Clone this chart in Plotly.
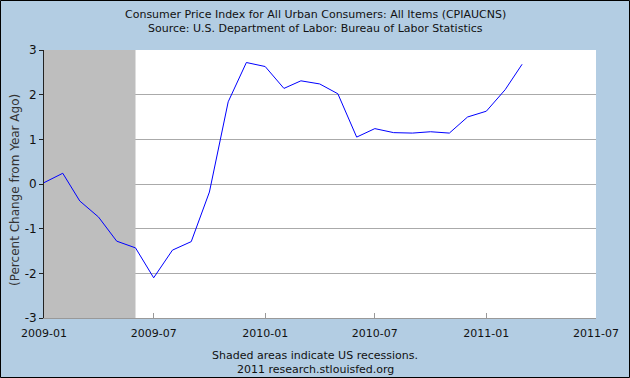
import plotly.graph_objects as go

months = ["2009-01-01","2009-02-01","2009-03-01","2009-04-01","2009-05-01","2009-06-01",
          "2009-07-01","2009-08-01","2009-09-01","2009-10-01","2009-11-01","2009-12-01",
          "2010-01-01","2010-02-01","2010-03-01","2010-04-01","2010-05-01","2010-06-01",
          "2010-07-01","2010-08-01","2010-09-01","2010-10-01","2010-11-01","2010-12-01",
          "2011-01-01","2011-02-01","2011-03-01"]
cpi_yoy = [0.03, 0.24, -0.38, -0.74, -1.28, -1.43,
           -2.10, -1.48, -1.29, -0.18, 1.84, 2.72,
           2.63, 2.14, 2.31, 2.24, 2.02, 1.05,
           1.24, 1.15, 1.14, 1.17, 1.14, 1.50,
           1.63, 2.11, 2.68]
recession_start = "2009-01-01"
recession_end = "2009-06-01"
x_ticks = ["2009-01-01","2009-07-01","2010-01-01","2010-07-01","2011-01-01","2011-07-01"]
x_tick_labels = ["2009-01","2009-07","2010-01","2010-07","2011-01","2011-07"]
y_ticks = [-3, -2, -1, 0, 1, 2, 3]
y_tick_labels = ["-3", "-2", "-1", "0", "1", "2", "3"]
y_min, y_max = -3, 3

FONT = "DejaVu Sans"
BG = "#B3CDE3"
W, H = 630, 378
L, R, T, B = 44, 34, 50, 60
PW, PH = W - L - R, H - T - B

fig = go.Figure()
# recession shading (drawn above grid, below the series)
fig.add_trace(go.Scatter(
    x=[recession_start, recession_end, recession_end, recession_start, recession_start],
    y=[y_min, y_min, y_max, y_max, y_min],
    mode="lines", fill="toself", fillcolor="#BEBEBE", line=dict(width=0, color="#BEBEBE"),
    hoverinfo="skip", showlegend=False))
fig.add_trace(go.Scatter(x=months, y=cpi_yoy, mode="lines",
                         line=dict(color="#0000FF", width=1), hoverinfo="skip",
                         showlegend=False))

fig.update_layout(
    width=W, height=H,
    margin=dict(l=L, r=R, t=T, b=B, autoexpand=False),
    paper_bgcolor=BG, plot_bgcolor="white",
    font=dict(family=FONT, size=11, color="#111111"),
    showlegend=False,
    xaxis=dict(range=["2009-01-01", "2011-07-01"], tickvals=x_ticks, ticktext=x_tick_labels,
               showgrid=False, zeroline=False, showline=True, linecolor="#999999", linewidth=1,
               ticks="inside", ticklen=5, tickcolor="#999999", automargin=False,
               ticklabelstandoff=5,
               tickfont=dict(family=FONT, size=11, color="#111111")),
    yaxis=dict(range=[y_min, y_max], tickvals=y_ticks, ticktext=y_tick_labels,
               showgrid=True, gridcolor="#AAAAAA", gridwidth=1, automargin=False,
               zeroline=False, showline=True, linecolor="#222222", linewidth=1,
               ticks="outside", ticklen=4, tickcolor="#222222",
               tickfont=dict(family=FONT, size=12, color="#111111")),
)

def py(ypix):
    return (H - B - ypix) / PH

def px(xpix):
    return (xpix - L) / PW

# y-axis title
fig.add_annotation(text="(Percent Change from Year Ago)", xref="paper", yref="paper",
                   x=px(15), y=py(190), textangle=-90, xanchor="center", yanchor="middle",
                   showarrow=False, font=dict(family=FONT, size=12, color="#333333"))

# outer frame of the image
fig.add_shape(type="rect", xref="paper", yref="paper",
              x0=px(0.5), x1=px(W - 0.5), y0=py(H - 0.5), y1=py(0.5),
              line=dict(color="#000000", width=1), fillcolor="rgba(0,0,0,0)", layer="above")

annos = [
    ("Consumer Price Index for All Urban Consumers: All Items (CPIAUCNS)", 14),
    ("Source: U.S. Department of Labor: Bureau of Labor Statistics", 28),
    ("Shaded areas indicate US recessions.", 355),
    ("2011 research.stlouisfed.org", 369),
]
for text, ypix in annos:
    fig.add_annotation(text=text, xref="paper", yref="paper",
                       x=px(315), y=py(ypix),
                       xanchor="center", yanchor="middle", showarrow=False,
                       font=dict(family=FONT, size=11, color="#111111"))

fig.write_html("out.html", config={"displayModeBar": False},
               post_script="document.body.style.margin='0';document.body.style.padding='0';"
                           "document.body.style.background='%s';" % BG)
